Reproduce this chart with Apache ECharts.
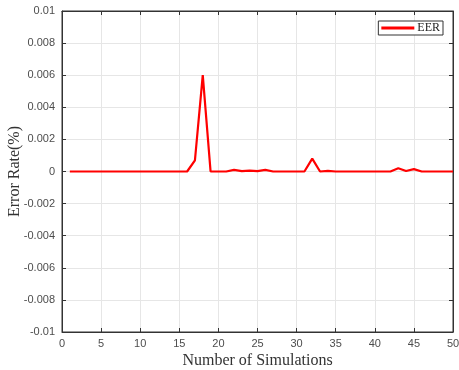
<!DOCTYPE html>
<html>
<head>
<meta charset="utf-8">
<script src="https://cdn.jsdelivr.net/npm/echarts@6/dist/echarts.min.js"></script>
<style>
  html, body { margin: 0; padding: 0; background: #fff; }
  #chart { width: 459px; height: 370px; }
</style>
</head>
<body>
<div id="chart"></div>
<script>
// simulations 1..50
const simulations = [
  1, 2, 3, 4, 5, 6, 7, 8, 9, 10,
  11, 12, 13, 14, 15, 16, 17, 18, 19, 20,
  21, 22, 23, 24, 25, 26, 27, 28, 29, 30,
  31, 32, 33, 34, 35, 36, 37, 38, 39, 40,
  41, 42, 43, 44, 45, 46, 47, 48, 49, 50
];
const eerValues = [
  0, 0, 0, 0, 0, 0, 0, 0, 0, 0,
  0, 0, 0, 0, 0, 0, 0.0007, 0.006, 0, 0,
  0, 0.0001, 0.00002, 0.00005, 0.00002, 0.0001, 0, 0, 0, 0,
  0, 0.0008, 0, 0.00004, 0, 0, 0, 0, 0, 0,
  0, 0, 0.0002, 0.00003, 0.00015, 0, 0, 0, 0, 0
];
const xTicks = [0, 5, 10, 15, 20, 25, 30, 35, 40, 45, 50];
const yTicks = [-0.01, -0.008, -0.006, -0.004, -0.002, 0, 0.002, 0.004, 0.006, 0.008, 0.01];
const yTickLabels = ["-0.01", "-0.008", "-0.006", "-0.004", "-0.002", "0", "0.002", "0.004", "0.006", "0.008", "0.01"];

const chart = echarts.init(document.getElementById("chart"), null, { renderer: "canvas" });

const labelFor = (v) => {
  const i = yTicks.findIndex((t) => Math.abs(t - v) < 1e-9);
  return i >= 0 ? yTickLabels[i] : "";
};

const tickLabel = { color: "#4d4d4d", fontFamily: "Liberation Sans", fontSize: 11 };
const gridLine = { show: true, lineStyle: { color: "#e6e6e6", width: 1 } };
const frame = { show: true, onZero: false, lineStyle: { color: "#333", width: 1 } };

chart.setOption({
  animation: false,
  backgroundColor: "#fff",
  grid: {
    left: 62, right: 6, top: 11, bottom: 38,
    outerBoundsMode: "none",
    containLabel: false,
    show: true, borderColor: "#333", borderWidth: 1
  },
  legend: {
    right: 16, top: 21,
    data: ["EER"],
    icon: "rect",
    itemWidth: 33, itemHeight: 3, itemGap: 4,
    padding: [1, 3, 1, 3],
    borderColor: "#333", borderWidth: 1,
    backgroundColor: "#fff",
    textStyle: { fontFamily: "Liberation Serif", fontSize: 12, color: "#222", padding: [0, 0, 0, -2] }
  },
  xAxis: [
    {
      type: "value",
      min: xTicks[0], max: xTicks[xTicks.length - 1], interval: 5,
      name: "Number of Simulations",
      nameLocation: "middle", nameGap: 21, nameMoveOverlap: false,
      nameTextStyle: { fontFamily: "Liberation Serif", fontSize: 16, color: "#333" },
      axisLine: frame,
      axisTick: { show: true, inside: true, length: 4, lineStyle: { color: "#333" } },
      axisLabel: Object.assign({ margin: 6 }, tickLabel),
      splitLine: gridLine
    },
    {
      type: "value", position: "top",
      min: xTicks[0], max: xTicks[xTicks.length - 1], interval: 5,
      axisLine: frame,
      axisTick: { show: true, inside: true, length: 4, lineStyle: { color: "#333" } },
      axisLabel: { show: false },
      splitLine: { show: false }
    }
  ],
  yAxis: [
    {
      type: "value",
      min: yTicks[0], max: yTicks[yTicks.length - 1], interval: 0.002,
      name: "Error Rate(%)",
      nameLocation: "middle", nameGap: 39, nameMoveOverlap: false,
      nameTextStyle: { fontFamily: "Liberation Serif", fontSize: 16, color: "#333" },
      axisLine: frame,
      axisTick: { show: true, inside: true, length: 4, lineStyle: { color: "#333" } },
      axisLabel: Object.assign({ margin: 7, formatter: labelFor }, tickLabel),
      splitLine: gridLine
    },
    {
      type: "value", position: "right",
      min: yTicks[0], max: yTicks[yTicks.length - 1], interval: 0.002,
      axisLine: frame,
      axisTick: { show: true, inside: true, length: 4, lineStyle: { color: "#333" } },
      axisLabel: { show: false },
      splitLine: { show: false }
    }
  ],
  series: [
    {
      name: "EER",
      type: "line",
      data: simulations.map((s, i) => [s, eerValues[i]]),
      showSymbol: false,
      symbol: "none",
      itemStyle: { color: "#ff0000" },
      lineStyle: { color: "#ff0000", width: 2.2 }
    }
  ]
});
</script>
</body>
</html>
